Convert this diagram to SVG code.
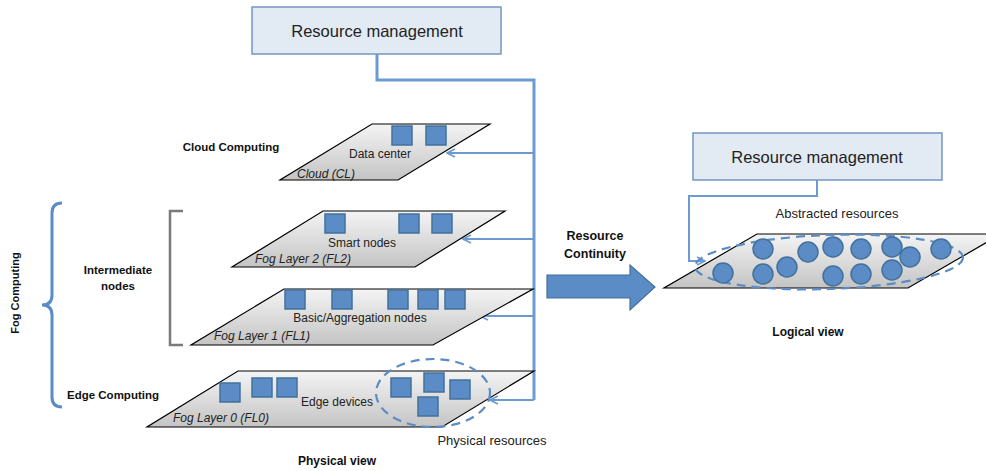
<svg xmlns="http://www.w3.org/2000/svg" width="986" height="471" viewBox="0 0 986 471">
<defs>
<linearGradient id="plane" x1="0" y1="0" x2="0" y2="1">
<stop offset="0" stop-color="#f4f4f4"/>
<stop offset="1" stop-color="#c4c4c4"/>
</linearGradient>
<marker id="arr" viewBox="0 0 10 10" refX="9" refY="5" markerWidth="10" markerHeight="10" markerUnits="userSpaceOnUse" orient="auto">
<path d="M1,1 L9,5 L1,9" fill="none" stroke="#6c9bd2" stroke-width="1.8"/>
</marker>
<style>
.plane{fill:url(#plane);stroke:#000;stroke-width:1.2}
.sq{fill:#5b8cc6;stroke:#41719c;stroke-width:1.5}
.ci{fill:#5b8cc6;stroke:#41719c;stroke-width:1.5}
.box{fill:#e2eaf4;stroke:#7596c2;stroke-width:1.5}
.conn{fill:none;stroke:#6c9bd2;stroke-width:2}
.main{fill:none;stroke:#6c9bd2;stroke-width:3}
.dash{fill:none;stroke:#5b8cc6;stroke-width:2.2;stroke-dasharray:9 6}
.t{font-family:"Liberation Sans",Arial,sans-serif;fill:#222}
.b{font-family:"Liberation Sans",Arial,sans-serif;font-weight:bold;fill:#111}
.i{font-family:"Liberation Sans",Arial,sans-serif;font-style:italic;fill:#222}
</style>
</defs>

<g id="connectors">
<path class="main" d="M377,54 L377,80 L534,80 L534,400"/>
<path class="conn" d="M534,153 L447,153" marker-end="url(#arr)"/>
<path class="conn" d="M534,239 L463,239" marker-end="url(#arr)"/>
<path class="conn" d="M534,316 L480,316" marker-end="url(#arr)"/>
<path class="conn" d="M534,400 L490,400" marker-end="url(#arr)"/>
<path class="conn" d="M817,180 L817,196 L689,196 L689,261 L705,261" marker-end="url(#arr)"/>
</g>

<g id="rm1">
<rect class="box" x="252" y="7" width="249" height="47"/>
<text class="t" x="377" y="37" font-size="16.5" text-anchor="middle">Resource management</text>
</g>

<g id="cloud">
<polygon class="plane" points="372,124 490,124 398,180 280,180"/>
<rect class="sq" x="392" y="126" width="20" height="19"/>
<rect class="sq" x="426" y="126" width="20" height="19"/>
<text class="t" x="380" y="158" font-size="12" text-anchor="middle">Data center</text>
<text class="i" x="297" y="178" font-size="12">Cloud (CL)</text>
</g>

<g id="fl2">
<polygon class="plane" points="323,211 505,211 415,267 232,267"/>
<rect class="sq" x="325" y="214" width="20" height="19"/>
<rect class="sq" x="399" y="214" width="20" height="19"/>
<rect class="sq" x="432" y="214" width="20" height="19"/>
<text class="t" x="362" y="247" font-size="12" text-anchor="middle">Smart nodes</text>
<text class="i" x="255" y="263" font-size="12">Fog Layer 2 (FL2)</text>
</g>

<g id="fl1">
<polygon class="plane" points="284,289 533,289 433,345 191,345"/>
<rect class="sq" x="285" y="290" width="20" height="19"/>
<rect class="sq" x="332" y="290" width="20" height="19"/>
<rect class="sq" x="388" y="290" width="20" height="19"/>
<rect class="sq" x="418" y="290" width="20" height="19"/>
<rect class="sq" x="445" y="290" width="20" height="19"/>
<text class="t" x="360" y="322" font-size="12" text-anchor="middle">Basic/Aggregation nodes</text>
<text class="i" x="214" y="340" font-size="12">Fog Layer 1 (FL1)</text>
</g>

<g id="fl0">
<polygon class="plane" points="238,371 534,371 442,427 147,427"/>
<rect class="sq" x="220" y="383" width="20" height="19"/>
<rect class="sq" x="252" y="378" width="20" height="19"/>
<rect class="sq" x="277" y="378" width="20" height="19"/>
<rect class="sq" x="391" y="378" width="20" height="19"/>
<rect class="sq" x="424" y="373" width="20" height="19"/>
<rect class="sq" x="450" y="380" width="20" height="19"/>
<rect class="sq" x="418" y="397" width="20" height="19"/>
<ellipse class="dash" cx="433" cy="393" rx="57" ry="34"/>
<text class="t" x="337" y="406" font-size="12" text-anchor="middle">Edge devices</text>
<text class="i" x="173" y="422" font-size="12">Fog Layer 0 (FL0)</text>
<text class="t" x="492" y="445" font-size="13" text-anchor="middle">Physical resources</text>
</g>

<g id="labels">
<text class="b" x="231" y="151" font-size="11.5" text-anchor="middle">Cloud Computing</text>
<text class="b" x="118" y="274" font-size="11.5" text-anchor="middle">Intermediate</text>
<text class="b" x="118" y="290" font-size="11.5" text-anchor="middle">nodes</text>
<text class="b" x="113" y="399" font-size="11.5" text-anchor="middle">Edge Computing</text>
<text class="b" transform="translate(19,293) rotate(-90)" font-size="11" text-anchor="middle">Fog Computing</text>
<text class="b" x="337" y="465" font-size="12" text-anchor="middle">Physical view</text>
<text class="b" x="808" y="336" font-size="12" text-anchor="middle">Logical view</text>
<text class="b" x="595" y="240" font-size="12.5" text-anchor="middle">Resource</text>
<text class="b" x="595" y="258" font-size="12.5" text-anchor="middle">Continuity</text>
</g>

<g id="brackets">
<path d="M62,203 Q52,203 52,213 L52,295 Q52,305 42,305 Q52,305 52,315 L52,397 Q52,407 62,407" fill="none" stroke="#5b8cc6" stroke-width="3"/>
<path d="M183,211 L170,211 L170,345 L183,345" fill="none" stroke="#7a7a7a" stroke-width="2.5"/>
</g>

<g id="continuity">
<polygon points="547,275 630,275 630,265 655,287 630,310 630,298 547,298" fill="#5b8cc6" stroke="#41719c" stroke-width="1.2"/>
</g>

<g id="rm2">
<rect class="box" x="693" y="133" width="249" height="47"/>
<text class="t" x="817" y="163" font-size="16.5" text-anchor="middle">Resource management</text>
</g>

<g id="logical">
<polygon class="plane" points="757,234 1001,234 908,288 664,288"/>
<ellipse class="dash" cx="829" cy="262" rx="134" ry="27" transform="rotate(-2 829 262)"/>
<circle class="ci" cx="763" cy="249" r="10"/>
<circle class="ci" cx="808" cy="252" r="10"/>
<circle class="ci" cx="833" cy="247" r="10"/>
<circle class="ci" cx="861" cy="249" r="10"/>
<circle class="ci" cx="892" cy="247" r="10"/>
<circle class="ci" cx="910" cy="257" r="10"/>
<circle class="ci" cx="941" cy="249" r="10"/>
<circle class="ci" cx="723" cy="273" r="10"/>
<circle class="ci" cx="763" cy="274" r="10"/>
<circle class="ci" cx="787" cy="267" r="10"/>
<circle class="ci" cx="833" cy="276" r="10"/>
<circle class="ci" cx="861" cy="274" r="10"/>
<circle class="ci" cx="892" cy="270" r="10"/>
<text class="t" x="837" y="218" font-size="13" text-anchor="middle">Abstracted resources</text>
</g>
</svg>
